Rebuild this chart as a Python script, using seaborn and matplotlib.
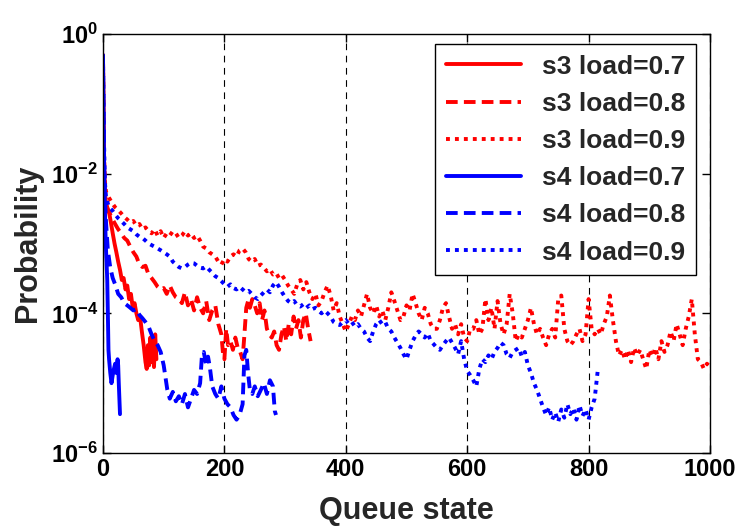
import matplotlib
matplotlib.use('Agg')

import matplotlib.pyplot as plt
import seaborn as sns
from matplotlib.ticker import NullLocator

# ---- data ----
s3_07_x = [0, 1, 2, 3, 4, 5, 7, 10, 13, 16, 19, 22, 25, 28, 31, 34, 37, 40, 43, 46,
           49, 52, 55, 58, 61, 64, 67, 70, 72, 74, 76, 78, 80, 82, 84, 86, 88]
s3_07_y = [0.5, 0.04, 0.012, 6e-3, 4.5e-3, 3.8e-3, 3.3e-3, 2.8e-3, 2.0e-3, 1.4e-3,
           1.0e-3, 7.5e-4, 5.5e-4, 4.2e-4, 3.0e-4, 3.2e-4, 2.2e-4, 2.5e-4, 1.6e-4, 1.9e-4,
           1.2e-4, 1.4e-4, 1.0e-4, 8e-5, 9e-5, 5.5e-5, 3.5e-5, 2e-5, 1.6e-5, 3.5e-5,
           1.8e-5, 4.5e-5, 2e-5, 4e-5, 1.7e-5, 5e-5, 2.2e-5]

s3_08_x = ([0, 1, 2, 3, 5, 8, 12, 16, 20] + list(range(25, 200, 5))
           + [198, 200, 203, 206, 210, 214, 218, 222, 226, 230, 233, 236, 239, 242]
           + list(range(246, 343, 4)))
s3_08_y = [0.4, 0.03, 8e-3, 5e-3, 3.5e-3, 3.0e-3, 2.6e-3, 2.2e-3, 1.9e-3,
           1.6e-3, 1.4e-3, 1.2e-3, 1.1e-3, 9e-4, 7.5e-4, 6.5e-4, 5e-4, 4.6e-4, 4.8e-4,
           3.6e-4, 3.2e-4, 2.8e-4, 2.4e-4, 2.2e-4, 2.3e-4, 1.9e-4, 2.5e-4, 2.0e-4, 1.7e-4,
           1.6e-4, 1.4e-4, 2.0e-4, 1.3e-4, 1.6e-4, 1.1e-4, 1.7e-4, 1.2e-4, 1.0e-4, 1.5e-4,
           8e-5, 1.1e-4, 1.3e-4, 7e-5, 5e-5,
           2.5e-5, 2.2e-5, 6e-5, 3.5e-5, 4e-5, 3e-5, 4.5e-5, 3.2e-5, 2.8e-5, 2.2e-5,
           5e-5, 1.2e-4, 1.5e-4, 1.2e-4,
           1.6e-4, 1.3e-4, 1.0e-4, 1.4e-4, 8e-5, 1.1e-4, 6e-5, 5e-5, 4.5e-5, 5.5e-5,
           3.5e-5, 3e-5, 5e-5, 6.5e-5, 4e-5, 7e-5, 5e-5, 9e-5, 6e-5, 8e-5,
           4.5e-5, 8e-5, 1.0e-4, 6e-5, 4e-5]

s3_09_x = [0, 1, 2, 3, 5] + list(range(10, 1005, 5))
s3_09_y = [0.5, 0.05, 0.015, 8e-3, 5.5e-3,
           4.5e-3, 3.8e-3, 3.3e-3, 3.0e-3, 2.7e-3, 2.4e-3, 2.2e-3, 2.0e-3, 2.1e-3, 1.8e-3,
           1.9e-3, 1.6e-3, 1.7e-3, 1.5e-3, 1.4e-3, 1.6e-3, 1.3e-3, 1.5e-3, 1.2e-3, 1.4e-3,
           1.3e-3, 1.5e-3, 1.4e-3, 1.2e-3, 1.3e-3, 1.5e-3, 1.3e-3, 1.4e-3, 1.2e-3, 1.3e-3,
           1.1e-3, 9e-4, 8.5e-4, 7.5e-4, 7e-4, 6.5e-4, 5.5e-4, 5e-4, 6e-4, 5.5e-4,
           6.5e-4, 7e-4, 6.5e-4, 8e-4, 8.5e-4, 7.5e-4, 6e-4, 5.5e-4, 6e-4, 4.8e-4,
           5e-4, 4.5e-4, 4e-4, 4.3e-4, 3.6e-4, 3.8e-4, 3.2e-4, 3.5e-4, 3.0e-4, 2.5e-4,
           2.2e-4, 1.9e-4, 2.6e-4, 3.0e-4, 2.2e-4, 2.8e-4, 2.0e-4, 1.6e-4, 1.9e-4, 1.3e-4,
           1.5e-4, 2.0e-4, 2.5e-4, 1.8e-4, 1.1e-4, 1.4e-4, 9e-5, 7e-5, 5.5e-5, 7e-5,
           9e-5, 8e-5, 1.1e-4, 9e-5, 1.3e-4, 1.9e-4, 1.2e-4, 1.0e-4, 1.3e-4, 9e-5,
           1.1e-4, 8e-5, 1.2e-4, 2.0e-4, 1.5e-4, 1.1e-4, 8e-5, 9e-5, 1.3e-4, 1.1e-4,
           1.9e-4, 1.4e-4, 1.0e-4, 8e-5, 1.2e-4, 1.0e-4, 7e-5, 6e-5, 6e-5, 8e-5,
           1.2e-4, 1.4e-4, 9e-5, 6e-5, 7e-5, 5e-5, 7e-5, 4.5e-5, 4e-5, 6e-5,
           6e-5, 8e-5, 5e-5, 6e-5, 1.6e-4, 8e-5, 1.2e-4, 6e-5, 1.5e-4, 7e-5,
           5e-5, 7e-5, 1.9e-4, 1.0e-4, 4e-5, 5e-5, 4.5e-5, 6e-5, 8e-5, 1.2e-4,
           7e-5, 5e-5, 6e-5, 4.5e-5, 3.5e-5, 5e-5, 6e-5, 4.5e-5, 1.6e-4, 1.8e-4,
           6e-5, 4e-5, 3.5e-5, 4e-5, 5e-5, 6e-5, 4e-5, 5e-5, 1.6e-4, 6e-5,
           5e-5, 6e-5, 5e-5, 7e-5, 9e-5, 1.8e-4, 8e-5, 4e-5, 2.5e-5, 3e-5,
           2.2e-5, 3e-5, 2.0e-5, 3.2e-5, 2.5e-5, 3e-5, 2.2e-5, 1.6e-5, 3e-5, 2.4e-5,
           3.2e-5, 2.2e-5, 4e-5, 2.8e-5, 3.5e-5, 5.5e-5, 4e-5, 7e-5, 5e-5, 3.5e-5,
           6e-5, 9e-5, 1.6e-4, 5e-5, 2.2e-5, 2e-5, 1.6e-5, 1.9e-5, 1.7e-5]

s4_07_x = [0, 1, 2, 3, 4, 5, 6, 7, 8, 9, 10, 12, 14, 16, 18, 20, 22, 24, 25, 26, 27, 28]
s4_07_y = [0.5, 0.05, 0.01, 3.5e-3, 1.5e-3, 8e-4, 5e-4, 3e-4, 1e-4, 3e-5, 2.2e-5,
           1.4e-5, 1.0e-5, 1.3e-5, 1.6e-5, 1.9e-5, 1.4e-5, 2.2e-5, 1.8e-5, 1.0e-5, 6e-6, 3.6e-6]

s4_08_x = ([0, 1, 2, 3, 5, 8, 12, 16, 20] + list(range(25, 105, 5)) + [103, 106]
           + list(range(110, 165, 5)) + [163, 166, 170, 173, 176]
           + list(range(180, 235, 5)) + [233, 236, 239, 242, 246, 250]
           + list(range(255, 285, 5)) + [283, 285])
s4_08_y = [0.45, 0.05, 0.012, 5e-3, 2e-3, 8e-4, 4.5e-4, 3.2e-4, 2.6e-4,
           1.9e-4, 1.7e-4, 1.4e-4, 1.3e-4, 1.2e-4, 1.1e-4, 1.15e-4, 9.5e-5, 8.5e-5, 7.5e-5,
           6.5e-5, 5e-5, 4e-5, 3.5e-5, 2.8e-5, 1.8e-5,
           1.2e-5, 8e-6,
           6e-6, 7.5e-6, 5.5e-6, 6.5e-6, 5e-6, 7e-6, 4.5e-6, 6e-6, 8e-6, 7e-6, 1e-5,
           2.5e-5, 2.8e-5, 1.8e-5, 2.4e-5, 1.7e-5,
           9e-6, 7e-6, 6e-6, 9e-6, 6e-6, 5e-6, 4.5e-6, 3.5e-6, 3e-6, 3.5e-6, 5e-6,
           2.5e-5, 3e-5, 1.4e-5, 8e-6, 7e-6, 9e-6,
           6.5e-6, 8e-6, 1e-5, 7e-6, 1.1e-5, 9e-6,
           4e-6, 3.5e-6]

s4_09_x = [0, 1, 2, 3, 5] + list(range(10, 820, 5))
s4_09_y = [0.45, 0.06, 0.02, 8e-3, 4.5e-3,
           3.3e-3, 3.0e-3, 2.6e-3, 2.3e-3, 2.1e-3, 1.9e-3, 1.7e-3, 1.6e-3, 1.5e-3, 1.35e-3,
           1.25e-3, 1.2e-3, 1.1e-3, 1.0e-3, 9.5e-4, 9e-4, 8.5e-4, 8e-4, 7.5e-4, 7e-4,
           6.5e-4, 5.5e-4, 5e-4, 4.6e-4, 4.4e-4, 4.6e-4, 5e-4, 5.3e-4, 5.2e-4, 4.8e-4,
           4.5e-4, 4.4e-4, 4.7e-4, 4.2e-4, 3.8e-4, 3.4e-4, 3.2e-4, 2.9e-4, 2.6e-4, 2.4e-4,
           2.6e-4, 2.3e-4, 2.2e-4, 2.4e-4, 2.2e-4, 2.0e-4, 2.1e-4, 1.9e-4, 1.7e-4, 1.6e-4,
           1.8e-4, 2.0e-4, 2.2e-4, 2.0e-4, 2.5e-4, 2.8e-4, 2.4e-4, 2.0e-4, 1.7e-4, 1.5e-4,
           1.4e-4, 1.5e-4, 1.3e-4, 1.25e-4, 1.35e-4, 1.2e-4, 1.3e-4, 1.15e-4, 1.2e-4, 1.1e-4,
           1.0e-4, 1.1e-4, 1.0e-4, 9e-5, 7.5e-5, 7e-5, 6.8e-5, 7.5e-5, 8e-5, 7e-5,
           7.5e-5, 6.5e-5, 7e-5, 6e-5, 5.5e-5, 4.5e-5, 4e-5, 5.5e-5, 7e-5, 8e-5,
           7e-5, 7.5e-5, 6e-5, 5.5e-5, 4.5e-5, 3.8e-5, 3.2e-5, 2.6e-5, 2.2e-5, 3e-5,
           4e-5, 4.8e-5, 5.5e-5, 5e-5, 4.5e-5, 5.2e-5, 4e-5, 3.6e-5, 3.2e-5, 3e-5,
           3.5e-5, 4e-5, 4.5e-5, 3.8e-5, 3.2e-5, 2.6e-5, 4e-5, 2.2e-5, 1.5e-5, 1.3e-5,
           1.1e-5, 9e-6, 1.6e-5, 2.2e-5, 2e-5, 2.5e-5, 2.2e-5, 2.8e-5, 3.2e-5, 3.8e-5,
           3.5e-5, 2.6e-5, 2.3e-5, 2.8e-5, 3e-5, 3.2e-5, 2.4e-5, 2.8e-5, 1.8e-5, 1.4e-5,
           1e-5, 8e-6, 6e-6, 4.5e-6, 3.5e-6, 4.5e-6, 3e-6, 3.8e-6, 2.8e-6, 4.2e-6,
           3.2e-6, 5e-6, 3.6e-6, 4.4e-6, 3e-6, 4.8e-6, 3.4e-6, 4.2e-6, 3e-6, 4.5e-6,
           6e-6, 1.5e-5]

series_labels = ['s3 load=0.7', 's3 load=0.8', 's3 load=0.9',
                 's4 load=0.7', 's4 load=0.8', 's4 load=0.9']
xticks = [0, 200, 400, 600, 800, 1000]
yticks = [1e-6, 1e-4, 1e-2, 1e0]
ytick_labels = [r'$\mathbf{10^{-6}}$', r'$\mathbf{10^{-4}}$',
                r'$\mathbf{10^{-2}}$', r'$\mathbf{10^{0}}$']

# ---- style ----
sns.set_style('ticks')
plt.rcParams['font.family'] = ['Liberation Sans', 'DejaVu Sans']
plt.rcParams['font.weight'] = 'bold'
plt.rcParams['mathtext.fontset'] = 'custom'
plt.rcParams['mathtext.rm'] = 'Liberation Sans:bold'
plt.rcParams['mathtext.bf'] = 'Liberation Sans:bold'
plt.rcParams['mathtext.it'] = 'Liberation Sans:bold'

fig = plt.figure(figsize=(7.39, 5.27), dpi=100)
ax = fig.add_axes([103 / 739, 1 - 453 / 527, 607 / 739, 419 / 527])

dot = (0, (1, 1.3))
dash = (0, (3, 1.6))
styles = [('red', '-'), ('red', dash), ('red', dot),
          ('blue', '-'), ('blue', dash), ('blue', dot)]
data = [(s3_07_x, s3_07_y), (s3_08_x, s3_08_y), (s3_09_x, s3_09_y),
        (s4_07_x, s4_07_y), (s4_08_x, s4_08_y), (s4_09_x, s4_09_y)]

for (xs, ys), (col, ls), lab in zip(data, styles, series_labels):
    sns.lineplot(x=xs, y=ys, ax=ax, color=col, linestyle=ls, linewidth=2.8,
                 label=lab, estimator=None, sort=False)

ax.set_yscale('log')
ax.set_xlim(0, 1000)
ax.set_ylim(1e-6, 1)
ax.set_xticks(xticks)
ax.set_yticks(yticks)
ax.set_yticklabels(ytick_labels)
ax.yaxis.set_minor_locator(NullLocator())
ax.tick_params(direction='in', top=True, right=True, length=6, width=1,
               labelsize=17, colors='black')
for sp in ax.spines.values():
    sp.set_color('black')
    sp.set_linewidth(1)

ax.grid(True, axis='x', color='black', linestyle=(0, (6, 5)), linewidth=0.8)
ax.set_axisbelow(True)

ax.set_xlabel('Queue state', fontsize=22, fontweight='bold', labelpad=11)
ax.set_ylabel('Probability', fontsize=22, fontweight='bold', labelpad=6)

leg = ax.legend(loc='upper right', bbox_to_anchor=(696 / 739, 1 - 44 / 527),
                bbox_transform=fig.transFigure, borderaxespad=0, fontsize=19,
                handlelength=2.85, fancybox=False, framealpha=1, edgecolor='black',
                labelspacing=0.5)
leg.get_frame().set_linewidth(1)

fig.savefig('out.png', dpi=100)
